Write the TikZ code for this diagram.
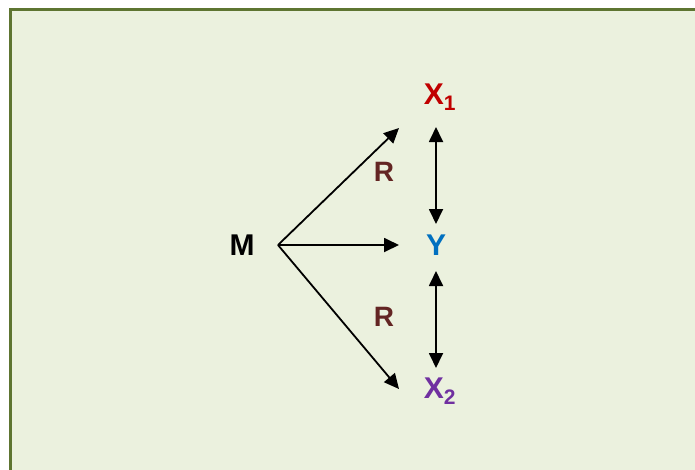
\documentclass[tikz,border=0pt]{standalone}
\usepackage{fontspec}
\setmainfont{Liberation Sans}
\usetikzlibrary{arrows.meta}
\definecolor{bgfill}{HTML}{EBF1DE}
\definecolor{bgline}{HTML}{5E7531}
\definecolor{xred}{HTML}{C00000}
\definecolor{yblue}{HTML}{0070C0}
\definecolor{xpurple}{HTML}{7030A0}
\definecolor{rbrown}{HTML}{632523}
\tikzset{
  lbl/.style={font=\bfseries\fontsize{30}{32}\selectfont, inner sep=0pt},
  rlbl/.style={font=\bfseries\fontsize{28}{30}\selectfont, inner sep=0pt, text=rbrown},
  arr/.style={line width=1.8pt, -{Triangle[length=15pt,width=14pt]}},
  darr/.style={line width=1.8pt, {Triangle[length=15pt,width=14pt]}-{Triangle[length=15pt,width=14pt]}},
}
\begin{document}
\begin{tikzpicture}[x=1pt,y=-1pt]
\useasboundingbox (0,0) rectangle (695,469);
\fill[white] (0,0) rectangle (695,469);
\draw[bgline, fill=bgfill, line width=2.5pt] (10.5,9.5) rectangle (720,500);
\node[lbl] (M) at (242,245) {M};
\node[lbl, text=yblue] (Y) at (436,245) {Y};
\node[lbl, text=xred] (X1) at (440,97) {X\textsubscript{1}};
\node[lbl, text=xpurple] (X2) at (440,391) {X\textsubscript{2}};
\node[rlbl] (R1) at (384,172) {R};
\node[rlbl] (R2) at (384,317) {R};
\coordinate (m0) at (278,245);
\coordinate (t1) at (399,128);
\coordinate (t2) at (399,245);
\coordinate (t3) at (399,389);
\coordinate (v1a) at (436,127);
\coordinate (v1b) at (436,224);
\coordinate (v2a) at (436,271);
\coordinate (v2b) at (436,368);
\draw[arr] (m0) -- (t1);
\draw[arr] (m0) -- (t2);
\draw[arr] (m0) -- (t3);
\draw[darr] (v1a) -- (v1b);
\draw[darr] (v2a) -- (v2b);
\end{tikzpicture}
\end{document}
